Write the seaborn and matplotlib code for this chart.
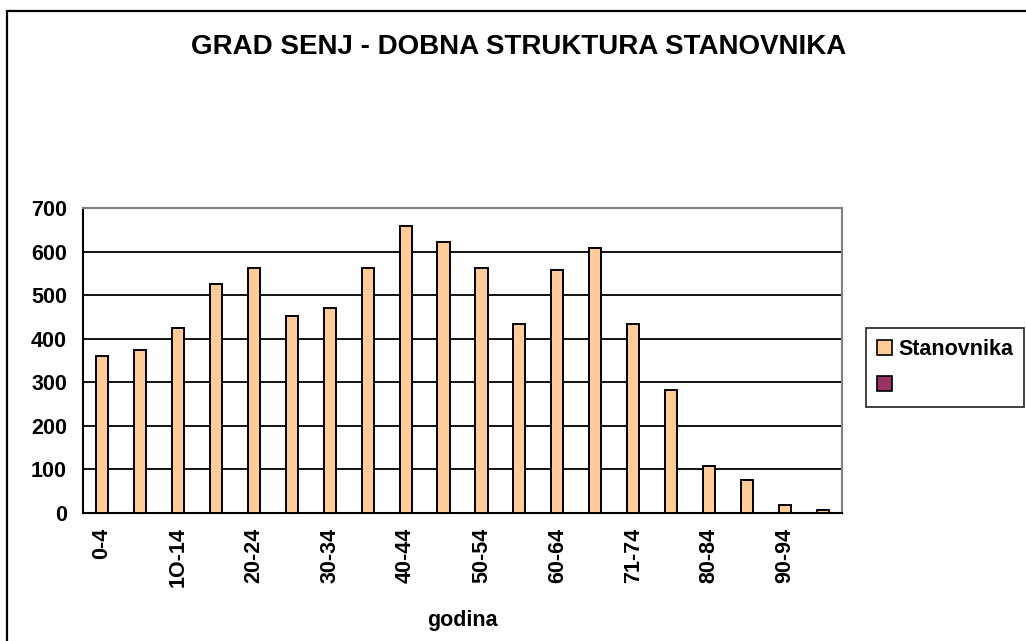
import matplotlib
matplotlib.use("Agg")
import matplotlib.pyplot as plt
import seaborn as sns
import pandas as pd
from matplotlib.patches import Rectangle, Patch

sns.set_style("white")
plt.rcParams['font.family'] = ['Liberation Sans', 'DejaVu Sans']
plt.rcParams['font.weight'] = 'bold'
plt.rcParams['text.color'] = 'black'
plt.rcParams['axes.labelcolor'] = 'black'
plt.rcParams['xtick.color'] = 'black'
plt.rcParams['ytick.color'] = 'black'

categories = ["0-4", "5-9", "1O-14", "15-19", "20-24", "25-29", "30-34", "35-39",
              "40-44", "45-49", "50-54", "55-59", "60-64", "65-70", "71-74", "75-79",
              "80-84", "85-89", "90-94", "95+"]
values = [361, 375, 425, 526, 562, 452, 471, 562, 659, 622, 562, 434, 558, 608,
          434, 283, 109, 76, 18, 8]
shown_labels = ["0-4", "", "1O-14", "", "20-24", "", "30-34", "", "40-44", "",
                "50-54", "", "60-64", "", "71-74", "", "80-84", "", "90-94", ""]
yticks = [0, 100, 200, 300, 400, 500, 600, 700]

df = pd.DataFrame({"godina": categories, "Stanovnika": values})

W, H = 1026, 641
FS = 15.5
fig = plt.figure(figsize=(W / 100, H / 100), dpi=100)
ax = fig.add_axes([83 / W, 1 - 513 / H, (842 - 83) / W, (513 - 208) / H])

sns.barplot(data=df, x="godina", y="Stanovnika", ax=ax, color="#FFCC99",
            saturation=1, width=0.32, edgecolor="black", linewidth=1.4, zorder=3)

ax.set_ylim(0, 700)
ax.set_xlim(-0.5, len(categories) - 0.5)
ax.set_yticks(yticks)
ax.set_yticklabels([str(v) for v in yticks], fontsize=FS, fontweight='bold', color='black')
ax.yaxis.grid(True, color="black", linewidth=1.3, zorder=0)
ax.set_axisbelow(True)

ax.set_xticks(range(len(categories)))
ax.set_xticklabels(shown_labels, rotation=90, fontsize=FS, fontweight='bold',
                   va='top', ha='center', color='black')
ax.set_xticks([i - 0.5 for i in range(len(categories) + 1)], minor=True)
ax.tick_params(axis='x', which='major', length=0, pad=10.5)
ax.tick_params(axis='x', which='minor', length=4.5, width=1.3, color='black', direction='out')
ax.tick_params(axis='y', which='major', length=4.5, width=1.3, color='black', direction='out', pad=7)

for s in ['left', 'bottom']:
    ax.spines[s].set_color('black')
    ax.spines[s].set_linewidth(1.5)
for s in ['top', 'right']:
    ax.spines[s].set_color('#808080')
    ax.spines[s].set_linewidth(1.5)

ax.set_ylabel("")
ax.set_xlabel("godina", fontsize=FS, fontweight='bold', labelpad=16, color='black')

fig.text(519 / W, 1 - 47 / H, "GRAD SENJ - DOBNA STRUKTURA STANOVNIKA",
         ha='center', va='center', fontsize=20, fontweight='bold', color='black')

handles = [Patch(facecolor="#FFCC99", edgecolor="black", linewidth=1.2),
           Patch(facecolor="#993366", edgecolor="black", linewidth=1.2)]
leg = fig.legend(handles, ["Stanovnika", ""], loc='upper left',
                 bbox_to_anchor=(866 / W, 1 - 328 / H), frameon=True, fancybox=False,
                 prop={'size': FS, 'weight': 'bold'}, handlelength=0.7, handleheight=0.7,
                 handletextpad=0.3, borderpad=0.5, labelspacing=0.7, borderaxespad=0)
leg.get_frame().set_edgecolor('black')
leg.get_frame().set_linewidth(1.3)
for t in leg.get_texts():
    t.set_color('black')

fig.patches.append(Rectangle((7 / W, -0.1), 1.2, 1 - 11 / H + 0.1, transform=fig.transFigure,
                             fill=False, edgecolor='black', linewidth=1.6))

fig.savefig("out.png", dpi=100, facecolor='white')
